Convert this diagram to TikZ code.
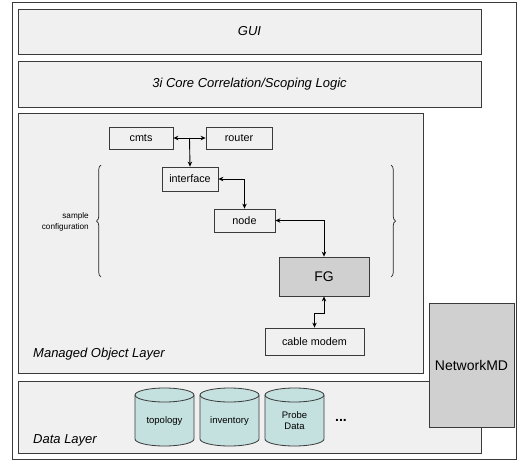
\documentclass[tikz,border=0pt]{standalone}
\usepackage{fontspec}
\setmainfont{Liberation Sans}
\usetikzlibrary{arrows.meta,decorations.pathreplacing,calc}
\definecolor{layerfill}{HTML}{F0F0F0}
\definecolor{darkfill}{HTML}{D0D0D0}
\definecolor{cylfill}{HTML}{C4E0DF}
\definecolor{edge}{HTML}{3A3A3A}
\begin{document}
\begin{tikzpicture}[x=1pt,y=-1pt,
  layer/.style={draw=edge,line width=0.8pt,fill=layerfill},
  mobox/.style={draw=edge,line width=0.8pt,fill=layerfill,inner sep=0pt,font=\fontsize{10.8}{12}\selectfont},
  conn/.style={line width=0.9pt,black,{Stealth[length=5pt,width=4.5pt]}-{Stealth[length=5pt,width=4.5pt]}},
  oneway/.style={line width=0.9pt,black,-{Stealth[length=5pt,width=4.5pt]}},
  cyl/.style={draw=edge,line width=0.8pt,fill=cylfill},
  cyltext/.style={font=\fontsize{9.5}{11.5}\selectfont,align=center},
  lbl/.style={font=\fontsize{13}{15}\selectfont\itshape,anchor=west,inner sep=0pt},
  brc/.style={decorate,decoration={brace,amplitude=4.5pt},line width=0.7pt,black!85}]
\useasboundingbox (0,0) rectangle (520,464);
% outer frame
\draw[draw=edge,line width=0.8pt,fill=white] (12,2) rectangle (516,459);
% GUI and core
\node[layer,minimum width=463pt,minimum height=45pt,inner sep=0pt,font=\fontsize{13}{15}\selectfont\itshape] (gui) at (249.5,31.5) {GUI};
\node[layer,minimum width=463pt,minimum height=46pt,inner sep=0pt,font=\fontsize{13}{15}\selectfont\itshape] (core) at (249.5,84) {3i Core Correlation/Scoping Logic};
% managed object layer
\node[layer,minimum width=405pt,minimum height=260pt,inner sep=0pt] (mol) at (220.5,243) {};
\node[lbl] (moltext) at (33,354) {Managed Object Layer};
% data layer
\node[layer,minimum width=463pt,minimum height=72pt,inner sep=0pt] (dl) at (249.5,417) {};
\node[lbl] (dltext) at (33,440) {Data Layer};
% NetworkMD
\node[draw=edge,line width=0.8pt,fill=darkfill,minimum width=85pt,minimum height=124pt,inner sep=0pt,font=\fontsize{14}{16}\selectfont] (nmd) at (471.5,365) {NetworkMD};
% managed objects
\node[mobox,minimum width=64pt,minimum height=22pt] (cmts) at (141,138) {cmts};
\node[mobox,minimum width=66pt,minimum height=22pt] (router) at (239,138) {router};
\node[mobox,minimum width=56pt,minimum height=24pt] (iface) at (190,179) {interface};
\node[mobox,minimum width=61pt,minimum height=23pt] (nodeb) at (244.5,220.5) {node};
\node[draw=edge,line width=0.8pt,fill=darkfill,minimum width=90pt,minimum height=39pt,inner sep=0pt,font=\fontsize{14}{16}\selectfont] (fg) at (324,276.5) {FG};
\node[mobox,minimum width=99pt,minimum height=27pt] (cm) at (314.5,341.5) {cable modem};
% connectors
\coordinate (j) at ($(cmts.east)!0.5!(router.west)$);
\draw[conn] (cmts.east) -- (router.west);
\draw[oneway] (j) -- (iface.north);
\draw[conn] (iface.east) -| (nodeb.north);
\draw[conn] (nodeb.east) -| (fg.north);
\draw[conn] (fg.south) -- ++(0,17) -| (cm.north);
% braces
\coordinate (lb1) at (101,277);
\coordinate (lb2) at (101,165);
\coordinate (rb1) at (391,165);
\coordinate (rb2) at (391,277);
\draw[brc] (lb1) -- (lb2);
\draw[brc] (rb1) -- (rb2);
\node[font=\fontsize{8.2}{11}\selectfont,align=right,anchor=east,inner sep=0pt] (sc) at (89,221.5) {sample\\configuration};
% cylinders
\foreach \cx/\nm in {164.5/topo,229.5/inv,294.5/probe}{
  \fill[cylfill] (\cx-29.5,395) -- (\cx-29.5,439) arc[start angle=180,end angle=360,x radius=29.5pt,y radius=7pt] -- (\cx+29.5,395) arc[start angle=0,end angle=180,x radius=29.5pt,y radius=7pt] -- cycle;
  \draw[draw=edge,line width=0.8pt] (\cx-29.5,395) -- (\cx-29.5,439) arc[start angle=180,end angle=360,x radius=29.5pt,y radius=7pt] -- (\cx+29.5,395);
  \draw[cyl] (\cx,395) ellipse[x radius=29.5pt,y radius=7pt];
}
\node[cyltext] (topology) at (164.5,421) {topology};
\node[cyltext] (inventory) at (229.5,421) {inventory};
\node[cyltext] (probedata) at (294.5,420.5) {Probe\\Data};
\node[font=\fontsize{14}{16}\selectfont\bfseries,inner sep=0pt] (dots) at (341,420) {...};
\end{tikzpicture}
\end{document}
